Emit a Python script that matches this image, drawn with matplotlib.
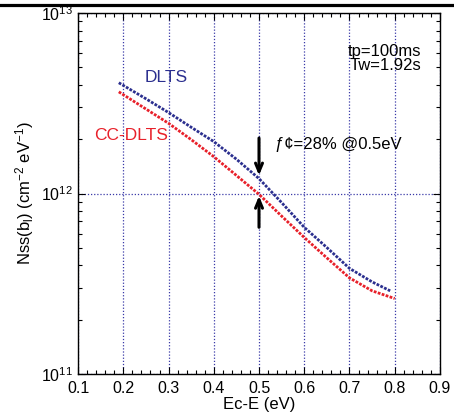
import matplotlib
matplotlib.use("Agg")
import matplotlib.pyplot as plt
from matplotlib.ticker import MultipleLocator, LogLocator, NullFormatter, FixedLocator
from matplotlib.lines import Line2D

plt.rcParams['font.family'] = ['Liberation Sans', 'DejaVu Sans']
plt.rcParams['mathtext.fontset'] = 'custom'
plt.rcParams['mathtext.rm'] = 'Liberation Sans'
plt.rcParams['mathtext.it'] = 'Liberation Sans:italic'

# Data
dlts_x = [0.19, 0.25, 0.30, 0.35, 0.40, 0.45, 0.50, 0.55, 0.60, 0.65, 0.70, 0.75, 0.79]
dlts_y = [4.11e12, 3.35e12, 2.81e12, 2.33e12, 1.94e12, 1.55e12, 1.21e12, 8.91e11,
          6.50e11, 5.02e11, 3.85e11, 3.24e11, 2.89e11]
cc_x = [0.19, 0.25, 0.30, 0.35, 0.40, 0.45, 0.50, 0.55, 0.60, 0.65, 0.70, 0.75, 0.80]
cc_y = [3.66e12, 2.94e12, 2.45e12, 1.99e12, 1.60e12, 1.26e12, 9.9e11, 7.50e11,
        5.71e11, 4.40e11, 3.41e11, 2.89e11, 2.62e11]
x_ticks = [0.1, 0.2, 0.3, 0.4, 0.5, 0.6, 0.7, 0.8, 0.9]
x_tick_labels = ['0.1', '0.2', '0.3', '0.4', '0.5', '0.6', '0.7', '0.8', '0.9']

blue = '#2b2f8f'
red = '#e8202a'
grid_c = '#3a3aa8'

fig = plt.figure(figsize=(4.54, 4.13), dpi=100)
ax = fig.add_axes([0.172, 0.0944, 0.797, 0.874])

ax.set_yscale('log')
ax.set_xlim(0.1, 0.9)
ax.set_ylim(1e11, 1e13)

ax.plot(dlts_x, dlts_y, color=blue, lw=2.0, linestyle=(0, (1, 0.5)), zorder=3)
ax.plot(cc_x, cc_y, color=red, lw=2.0, linestyle=(0, (1, 0.5)), zorder=3)

ax.set_xticks(x_ticks)
ax.set_xticklabels(x_tick_labels)
ax.xaxis.set_minor_locator(MultipleLocator(0.02))
ax.yaxis.set_major_locator(FixedLocator([1e11, 1e12, 1e13]))
ax.set_yticklabels([r'$10^{11}$', r'$10^{12}$', r'$10^{13}$'])
ax.yaxis.set_minor_locator(LogLocator(base=10, subs=range(2, 10)))
ax.yaxis.set_minor_formatter(NullFormatter())

ax.tick_params(which='both', direction='in', top=True, right=True, labelsize=11.5, colors='black')
ax.tick_params(which='major', length=5, width=0.8)
ax.tick_params(which='minor', length=3, width=0.8)
ax.tick_params(axis='x', pad=5)

ax.grid(True, which='major', color=grid_c, linestyle=(0, (1, 1.5)), lw=0.9)
for s in ax.spines.values():
    s.set_linewidth(1.0)

ax.set_xlabel('Ec-E (eV)', fontsize=12, labelpad=1)
ax.set_ylabel(r'Nss(b$_\mathregular{l}$) (cm$^{-2}$ eV$^{-1}$)', fontsize=12, labelpad=4)

ax.text(0.294, 4.4e12, 'DLTS', color=blue, fontsize=12.5, ha='center', va='center')
ax.text(0.218, 2.1e12, 'CC-DLTS', color=red, fontsize=12.5, ha='center', va='center')
ax.text(0.858, 5.6e12, 'tp=100ms\nTw=1.92s', color='black', fontsize=12, ha='right', va='center',
        linespacing=0.95)
ax.text(0.535, 1.86e12, 'ƒ¢=28% @0.5eV', color='black', fontsize=12, ha='left', va='center')

ax.annotate('', xy=(0.5, 1.26e12), xytext=(0.5, 2.03e12),
            arrowprops=dict(arrowstyle='->, head_length=0.6, head_width=0.25', color='black',
                            lw=2.2, shrinkA=0, shrinkB=0))
ax.annotate('', xy=(0.5, 0.97e12), xytext=(0.5, 6.5e11),
            arrowprops=dict(arrowstyle='->, head_length=0.6, head_width=0.25', color='black',
                            lw=2.2, shrinkA=0, shrinkB=0))

fig.add_artist(Line2D([0, 1], [0.987, 0.987], transform=fig.transFigure, color='black', lw=2.3))

fig.savefig('out.png', dpi=100)
